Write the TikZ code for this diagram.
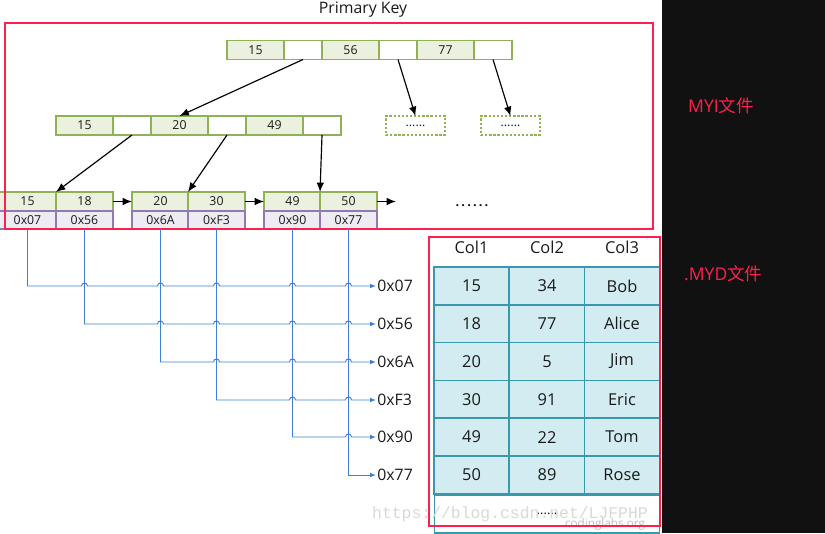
\documentclass[tikz,border=0pt]{standalone}
\usepackage{fontspec}
\setmainfont{Open Sans}
\newfontfamily\cjk{Noto Sans CJK SC}
\newfontfamily\markfont{Liberation Mono}
\usetikzlibrary{positioning, arrows.meta, calc}
\definecolor{keyline}{HTML}{8EB255}
\definecolor{keyfill}{HTML}{EBF1DE}
\definecolor{ptrline}{HTML}{9279B3}
\definecolor{ptrfill}{HTML}{EEECF3}
\definecolor{boxred}{HTML}{FF1F4F}
\definecolor{rowblue}{HTML}{3D7FD6}
\definecolor{tabline}{HTML}{3A98AE}
\definecolor{tabfill}{HTML}{D3ECF1}
\definecolor{panel}{HTML}{111111}
\definecolor{ink}{HTML}{1A1A1A}

\begin{document}
\begin{tikzpicture}[x=0.03cm, y=-0.03cm, text=ink,
  font=\fontsize{10.5}{12}\selectfont,
  key/.style={draw=keyline, fill=keyfill, line width=1.1pt, minimum width=1.71cm, minimum height=0.57cm, inner sep=0pt, outer sep=0pt},
  gap/.style={key, fill=white, minimum width=1.14cm},
  more/.style={key, fill=white, dash pattern=on 2pt off 1.5pt, minimum width=1.77cm},
  ptrcell/.style={draw=ptrline, fill=ptrfill, line width=1.1pt, minimum width=1.71cm, minimum height=0.54cm, inner sep=0pt, outer sep=0pt},
  link/.style={-{Latex[length=8pt,width=6.5pt]}, line width=1pt},
  row/.style={rowblue, line width=0.8pt, -{Latex[length=5pt,width=4pt]}},
  addr/.style={anchor=west, inner sep=1pt, font=\fontsize{13.5}{15}\selectfont},
  cell/.style={draw=tabline, fill=tabfill, line width=1.3pt, minimum width=2.25cm, minimum height=1.134cm, inner sep=0pt, font=\fontsize{14}{16}\selectfont},
  filelabel/.style={boxred, anchor=west, font=\fontsize{15}{17}\selectfont},
  filebox/.style={draw=boxred, line width=2pt}]
\useasboundingbox (0,0) rectangle (825,533);
% dark panel on the right
\fill[panel] (662,0) rectangle (825,533);

% index tree
\node[font=\fontsize{13.5}{15}\selectfont] (title) at (363,10) {Primary Key};
\node[key, anchor=west] (r1) at (227,50) {15};
\node[gap, right=0pt of r1] (r2) {};
\node[key, right=0pt of r2] (r3) {56};
\node[gap, right=0pt of r3] (r4) {};
\node[key, right=0pt of r4] (r5) {77};
\node[gap, right=0pt of r5] (r6) {};

\node[key, anchor=west] (m1) at (56,125.5) {15};
\node[gap, right=0pt of m1] (m2) {};
\node[key, right=0pt of m2] (m3) {20};
\node[gap, right=0pt of m3] (m4) {};
\node[key, right=0pt of m4] (m5) {49};
\node[gap, right=0pt of m5] (m6) {};
\node[more] (d1) at (415.5,125.5) {......};
\node[more] (d2) at (510.5,125.5) {......};

% leaves with row pointers
\foreach \i/\x/\t in {1/-1/15, 2/56/18, 3/132/20, 4/188/30, 5/264/49, 6/320/50}
  \node[key, anchor=west] (k\i) at (\x,201.5) {\t};
\foreach \i/\t in {1/0x07, 2/0x56, 3/0x6A, 4/0xF3, 5/0x90, 6/0x77}
  \node[ptrcell, below=0pt of k\i] (p\i) {\t};
\coordinate (next) at (396,201.5);
\node[font=\bfseries\fontsize{11}{12}\selectfont] (dots) at (472,206) {.\,.\,.\,.\,.\,.};

\draw[link] (r2.south) -- (m3.north);
\draw[link] (r4.south) -- (d1.north);
\draw[link] (r6.south) -- (d2.north);
\draw[link] (m2.south) -- (k2.north west);
\draw[link] (m4.south) -- (k4.north west);
\draw[link] (m6.south) -- (k6.north west);
\draw[link] (k2.east) -- (k3.west);
\draw[link] (k4.east) -- (k5.west);
\draw[link] (k6.east) -- (next);

\draw[filebox] (5,23) rectangle (653,229);
\node[filelabel] (myi) at (684,106) {MYI{\cjk 文件}};

% row addresses
\foreach \i/\t/\y in {1/0x07/286, 2/0x56/324, 3/0x6A/362, 4/0xF3/400, 5/0x90/437, 6/0x77/475}
  \node[addr] (a\i) at (376,\y) {\t};
\foreach \i [count=\n from 2] in {1,...,5}
  \draw[row] (p\i.south) -- (p\i.south |- a\i.west)
    \foreach \j in {\n,...,6} { -- ($(p\j.south |- a\i.west)+(-3,0)$) .. controls +(0,-4) and +(0,-4) .. ($(p\j.south |- a\i.west)+(3,0)$) }
    -- (a\i.west);
\draw[row] (p6.south) |- (a6.west);

% data file
\foreach \i/\x/\t in {1/471.5/Col1, 2/547/Col2, 3/622/Col3}
  \node[font=\fontsize{14}{16}\selectfont] (h\i) at (\x,247) {\t};
\foreach \a/\b/\c [count=\r] in {15/34/Bob, 18/77/Alice, 20/5/Jim, 30/91/Eric, 49/22/Tom, 50/89/Rose} {
  \node[cell] (c\r-1) at (471.5,248.1+37.8*\r) {\a};
  \node[cell] (c\r-2) at (547,248.1+37.8*\r) {\b};
  \node[cell] (c\r-3) at (622,248.1+37.8*\r) {\c};
}
\node[cell, fill=white, minimum width=6.75cm, below=0pt of c6-2, font=\fontsize{11}{12}\selectfont] (tail) {......};

% watermark
\node[gray!30, font=\markfont\fontsize{14}{16}\selectfont] (mark) at (510,514) {https://blog.csdn.net/LJFPHP};
\node[gray!50, font=\fontsize{10}{12}\selectfont] (site) at (605,524) {codinglabs.org};

\draw[filebox] (429,237) rectangle (660,526);
\node[filelabel] (myd) at (680,274) {.MYD{\cjk 文件}};
\end{tikzpicture}
\end{document}
